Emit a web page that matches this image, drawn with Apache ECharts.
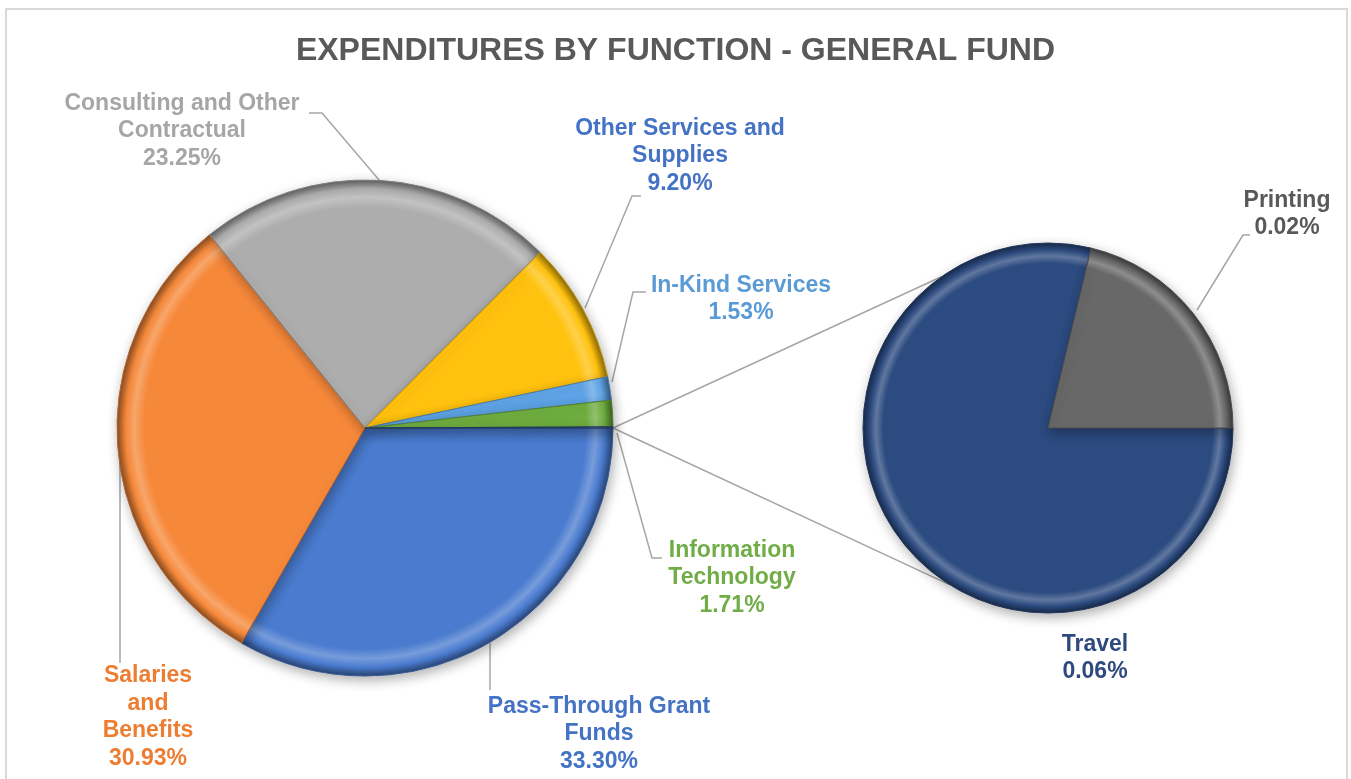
<!DOCTYPE html>
<html>
<head>
<meta charset="utf-8">
<script src="https://cdn.jsdelivr.net/npm/echarts@6/dist/echarts.min.js"></script>
<style>
  html, body { margin: 0; padding: 0; background: #fff; }
  #chart { width: 1351px; height: 779px; }
</style>
</head>
<body>
<div id="chart"></div>
<script>
// main pie: functions (percent of general fund)
const mainNames = [
  'Pass-Through Grant\nFunds',
  'Salaries\nand\nBenefits',
  'Consulting and Other\nContractual',
  'Other Services and\nSupplies',
  'In-Kind Services',
  'Information\nTechnology',
  'Other'
];
const mainValues = [33.30, 30.93, 23.25, 9.20, 1.53, 1.71, 0.08];

// secondary pie: breakdown of "Other"
const subNames = ['Travel', 'Printing'];
const subValues = [0.063, 0.017];

// styling
const mainColors = ['#4a7bcf', '#f6883a', '#adadad', '#ffc20e', '#5fa5e8', '#6fae3f', '#2c4b80'];
const mainLabelColors = ['#4472c4', '#ed7d31', '#a6a6a6', '#4472c4', '#5b9bd5', '#70ad47', '#264478'];
const subColors = ['#2c4b80', '#686868'];
const subLabelColors = ['#2e4a7d', '#595959'];

const MAIN = { cx: 365, cy: 428, r: 248 };
const SUB = { cx: 1048, cy: 428, r: 185 };
const FONT = '"Liberation Sans", Arial, sans-serif';
const LINE = '#a6a6a6';

// label placement (block centre + leader line points)
const mainLabelPos = [
  { x: 599, y: 734, line: [[490, 643], [490, 690], [490, 690]] },
  { x: 148, y: 717, line: [[120, 447], [120, 663], [120, 663]] },
  { x: 182, y: 131, line: [[380, 181], [322, 113], [309, 113]] },
  { x: 680, y: 156, line: [[585, 308], [632, 196], [641, 196]] },
  { x: 741, y: 299, line: [[612, 382], [633, 292], [646, 292]] },
  { x: 732, y: 578, line: [[617, 433], [652, 558], [662, 558]] },
  null
];
const subLabelPos = [
  { x: 1095, y: 658, line: null },
  { x: 1287, y: 214, line: [[1197, 310], [1243, 235], [1250, 235]] }
];

function shade(hex, amt) {
  const n = parseInt(hex.slice(1), 16);
  let r = n >> 16, g = (n >> 8) & 255, b = n & 255;
  const f = c => Math.round(amt >= 0 ? c + (255 - c) * amt : c * (1 + amt));
  return 'rgb(' + f(r) + ',' + f(g) + ',' + f(b) + ')';
}

function bevel(c, pie) {
  return new echarts.graphic.RadialGradient(pie.cx, pie.cy, pie.r, [
    { offset: 0, color: c },
    { offset: 0.89, color: c },
    { offset: 0.93, color: shade(c, 0.25) },
    { offset: 0.965, color: c },
    { offset: 1, color: shade(c, -0.45) }
  ], true);
}

function items(names, values, colors, labelColors, pie, hideLast) {
  return values.map((v, i) => ({
    name: names[i],
    value: v,
    itemStyle: {
      color: bevel(colors[i], pie),
      borderColor: shade(colors[i], -0.25),
      borderWidth: 1
    },
    label: { show: !(hideLast && i === values.length - 1), color: labelColors[i] },
    labelLine: { show: !(hideLast && i === values.length - 1) }
  }));
}

function layoutFor(posList) {
  return function (params) {
    const p = posList[params.dataIndex];
    if (!p) return {};
    const out = { x: p.x, y: p.y, align: 'center', verticalAlign: 'middle' };
    if (p.line) out.labelLinePoints = p.line;
    return out;
  };
}

const chart = echarts.init(document.getElementById('chart'));

// connector lines from the "Other" slice to the secondary pie
const startX = MAIN.cx + MAIN.r, startY = MAIN.cy;
const a1 = 235 * Math.PI / 180, a2 = 122 * Math.PI / 180;
const connectors = [a1, a2].map(a => ({
  type: 'line',
  z: -1,
  shape: { x1: startX, y1: startY, x2: SUB.cx + SUB.r * Math.cos(a), y2: SUB.cy + SUB.r * Math.sin(a) },
  style: { stroke: LINE, lineWidth: 1.5 }
}));

const labelBase = {
  show: true,
  fontFamily: FONT,
  fontSize: 23,
  fontWeight: 'bold',
  lineHeight: 27.5,
  align: 'center',
  formatter: p => p.name + '\n' + p.value.toFixed(2) + '%'
};
const shadowStyle = { shadowBlur: 12, shadowColor: 'rgba(0,0,0,0.3)', shadowOffsetX: 2, shadowOffsetY: 4 };

chart.setOption({
  animation: false,
  backgroundColor: '#fff',
  title: {
    text: 'EXPENDITURES BY FUNCTION - GENERAL FUND',
    left: 'center',
    top: 30,
    textStyle: { fontFamily: FONT, fontSize: 32, fontWeight: 'bold', color: '#595959' }
  },
  graphic: [
    { type: 'rect', z: -2, shape: { x: 6, y: 9, width: 1341, height: 790 }, style: { fill: 'none', stroke: '#d9d9d9', lineWidth: 2 } }
  ].concat(connectors),
  series: [
    {
      type: 'pie',
      silent: true,
      center: [MAIN.cx, MAIN.cy],
      radius: MAIN.r,
      startAngle: 0,
      clockwise: true,
      avoidLabelOverlap: false,
      itemStyle: shadowStyle,
      label: labelBase,
      labelLine: { show: true, lineStyle: { color: LINE, width: 1.5 } },
      labelLayout: layoutFor(mainLabelPos),
      data: items(mainNames, mainValues, mainColors, mainLabelColors, MAIN, true)
    },
    {
      type: 'pie',
      silent: true,
      center: [SUB.cx, SUB.cy],
      radius: SUB.r,
      startAngle: 0,
      clockwise: true,
      avoidLabelOverlap: false,
      itemStyle: shadowStyle,
      label: labelBase,
      labelLine: { show: true, lineStyle: { color: LINE, width: 1.5 } },
      labelLayout: layoutFor(subLabelPos),
      data: items(subNames, subValues, subColors, subLabelColors, SUB, false).map((d, i) => {
        if (!subLabelPos[i].line) d.labelLine = { show: false };
        return d;
      })
    }
  ]
});
</script>
</body>
</html>
